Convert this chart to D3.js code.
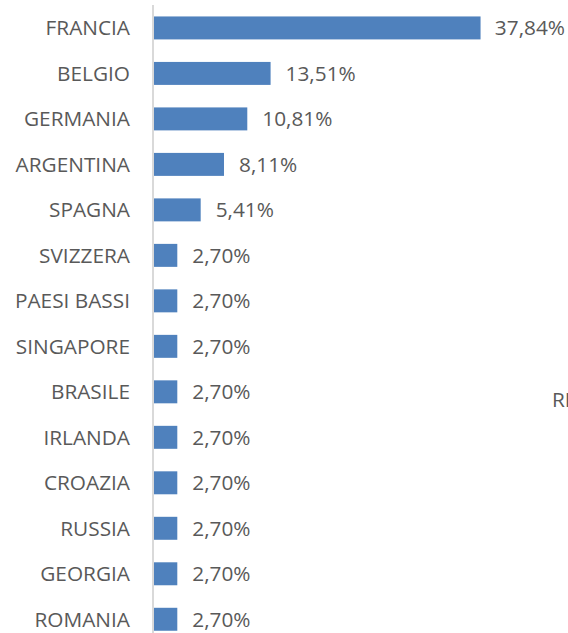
<!DOCTYPE html>
<html>
<head>
<meta charset="utf-8">
<script src="https://cdn.jsdelivr.net/npm/d3@7"></script>
<style>
  html, body { margin: 0; padding: 0; background: #fff; overflow: hidden; }
  text { font-family: "Open Sans", sans-serif; fill: #595959; }
</style>
</head>
<body>
<svg class="chart" width="568" height="633"></svg>
<script>
// country shares (percent)
var countries = ['FRANCIA', 'BELGIO', 'GERMANIA', 'ARGENTINA', 'SPAGNA', 'SVIZZERA',
  'PAESI BASSI', 'SINGAPORE', 'BRASILE', 'IRLANDA', 'CROAZIA', 'RUSSIA', 'GEORGIA', 'ROMANIA']
var shares = [37.84, 13.51, 10.81, 8.11, 5.41, 2.70, 2.70, 2.70, 2.70, 2.70, 2.70, 2.70, 2.70, 2.70]
var clippedTitle = 'RI'

const W = 568, H = 633
const fontSize = 20.8
var fmt = (v) => v.toFixed(2).replace('.', ',') + '%'

var data = countries.map((c, i) => ({ name: c, value: shares[i] }))

var svg = d3.select('svg.chart')

var y = d3.scaleBand()
  .domain(countries)
  .range([-6.3, 653.5])
  .paddingInner(0.495)
  .paddingOuter(0.5)

var x = d3.scaleLinear()
  .domain([0, 40])
  .range([154, 499.2])

// vertical axis line
svg.append('line')
  .attr('x1', 153).attr('x2', 153)
  .attr('y1', 5).attr('y2', H)
  .attr('stroke', '#d9d9d9')
  .attr('stroke-width', 2)

// category labels
var yAxis = d3.axisLeft(y).tickSize(0).tickPadding(23)
var ax = svg.append('g')
  .attr('transform', 'translate(153,0)')
  .call(yAxis)
ax.select('.domain').remove()
ax.selectAll('text')
  .attr('font-family', '"Open Sans", sans-serif')
  .attr('font-size', fontSize)
  .attr('fill', '#595959')
  .attr('dy', '0.35em')

svg.append('g').selectAll('rect')
  .data(data)
  .enter()
  .append('rect')
    .attr('x', x(0))
    .attr('y', (d) => y(d.name))
    .attr('width', (d) => x(d.value) - x(0))
    .attr('height', y.bandwidth())
    .attr('fill', '#4f81bd')

var labels = svg.append('g').selectAll('text')
  .data(data)
  .enter()
  .append('text')
    .attr('y', (d) => y(d.name) + y.bandwidth() / 2)
    .attr('dy', '0.35em')
    .attr('font-size', fontSize)
    .text((d) => fmt(d.value))

// keep labels inside the plot, like the spreadsheet does
labels.attr('x', function (d) {
  var w = this.getComputedTextLength()
  return Math.min(x(d.value) + 15, W - w - 3)
})

svg.append('text')
  .attr('x', 552)
  .attr('y', 400)
  .attr('dy', '0.35em')
  .attr('font-size', fontSize)
  .text(clippedTitle)
</script>
</body>
</html>
